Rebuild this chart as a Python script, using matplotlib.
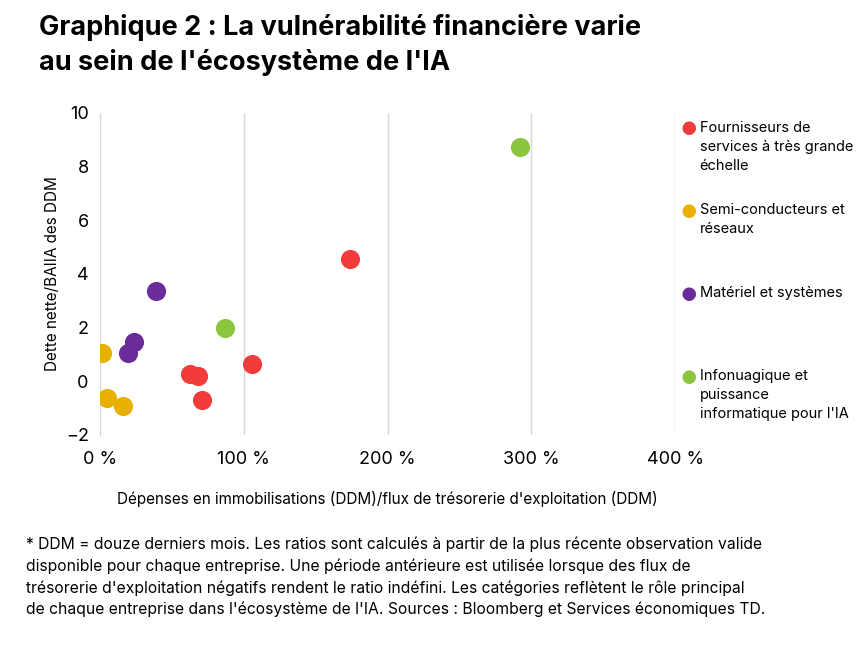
import matplotlib.pyplot as plt

plt.rcParams["font.family"] = ["Inter", "DejaVu Sans"]

# données
categories = [
    "Fournisseurs de\nservices à très grande\néchelle",
    "Semi-conducteurs et\nréseaux",
    "Matériel et systèmes",
    "Infonuagique et\npuissance\ninformatique pour l'IA",
]
colors = ["#f23c3c", "#e8b000", "#6a2c9a", "#8cc63f"]
x_vals = [
    [174, 106, 63, 68, 71],
    [1.5, 5, 16],
    [39, 24, 19.5],
    [292, 87],
]
y_vals = [
    [4.55, 0.62, 0.28, 0.2, -0.7],
    [1.05, -0.62, -0.92],
    [3.35, 1.45, 1.05],
    [8.72, 1.98],
]
legend_y = [0.811, 0.684, 0.555, 0.427]

fig = plt.figure(figsize=(8.68, 6.48), dpi=100)
ax = fig.add_axes([0.115, 0.329, 0.663, 0.497])

for cat, c, xs, ys, ly in zip(categories, colors, x_vals, y_vals, legend_y):
    ax.scatter(xs, ys, s=190, color=c, zorder=3, linewidths=0)
    fig.text(0.793, ly, "●", color=c, fontsize=13, va="top", ha="center")
    fig.text(0.806, ly + 0.003, cat, fontsize=10.5, va="top", linespacing=1.45)

ax.set_xlim(0, 400)
ax.set_ylim(-2, 10)
ax.set_xticks([0, 100, 200, 300, 400])
ax.set_xticklabels(["0 %", "100 %", "200 %", "300 %", "400 %"], fontsize=13)
ax.set_yticks(range(-2, 11, 2))
ax.tick_params(axis="y", labelsize=13, length=0, pad=8)
ax.tick_params(axis="x", length=0, pad=12)
ax.grid(axis="x", color="#d9d9d9", linewidth=1)
for s in ["top", "right", "bottom"]:
    ax.spines[s].set_visible(False)
ax.spines["left"].set_color("#d9d9d9")
ax.set_ylabel("Dette nette/BAIIA des DDM", fontsize=11, labelpad=4)
ax.set_xlabel("Dépenses en immobilisations (DDM)/flux de trésorerie d'exploitation (DDM)",
              fontsize=11, labelpad=16)

fig.text(0.045, 0.978, "Graphique 2 : La vulnérabilité financière varie\nau sein de l'écosystème de l'IA",
         fontsize=19.5, fontweight="bold", va="top", linespacing=1.35)
fig.text(0.03, 0.172,
         "* DDM = douze derniers mois. Les ratios sont calculés à partir de la plus récente observation valide\n"
         "disponible pour chaque entreprise. Une période antérieure est utilisée lorsque des flux de\n"
         "trésorerie d'exploitation négatifs rendent le ratio indéfini. Les catégories reflètent le rôle principal\n"
         "de chaque entreprise dans l'écosystème de l'IA. Sources : Bloomberg et Services économiques TD.",
         fontsize=11.3, va="top", linespacing=1.5)

fig.savefig("out.png", dpi=100)
